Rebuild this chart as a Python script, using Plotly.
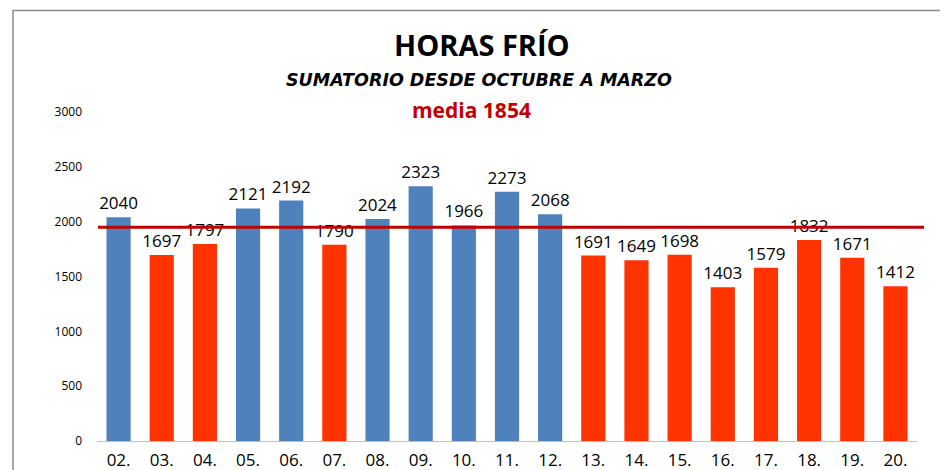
import plotly.graph_objects as go

categories = ["02.", "03.", "04.", "05.", "06.", "07.", "08.", "09.", "10.", "11.",
              "12.", "13.", "14.", "15.", "16.", "17.", "18.", "19.", "20."]
values = [2040, 1697, 1797, 2121, 2192, 1790, 2024, 2323, 1966, 2273,
          2068, 1691, 1649, 1698, 1403, 1579, 1832, 1671, 1412]
mean_line = 1950
mean_label = "media 1854"
y_ticks = [0, 500, 1000, 1500, 2000, 2500, 3000]

BLUE = "#4F81BD"
RED = "#FF3300"
colors = [BLUE if v >= mean_line else RED for v in values]

FONT = "Open Sans, Liberation Sans, sans-serif"

fig = go.Figure()
fig.add_trace(go.Bar(
    x=categories, y=values,
    marker=dict(color=colors, line=dict(width=0)),
    text=[str(v) for v in values],
    textposition="outside",
    constraintext="none",
    textfont=dict(family=FONT, size=17, color="#000000"),
    cliponaxis=False,
    showlegend=False,
))

# page body has an 8px offset; work in target pixel coords and subtract it
OFF = 8
W, H = 948, 470
plot_l, plot_r, plot_t, plot_b = 97, 917, 112, 441
ml = plot_l - OFF
mt = plot_t - OFF
pw = plot_r - plot_l
ph = plot_b - plot_t
mr = W - ml - pw
mb = H - mt - ph

fig.update_layout(
    width=W, height=H,
    margin=dict(l=ml, r=mr, t=mt, b=mb, autoexpand=False),
    paper_bgcolor="white", plot_bgcolor="white",
    bargap=0.44,
    font=dict(family=FONT, color="#000000"),
    showlegend=False,
)

fig.update_xaxes(
    showgrid=False, showline=True, linecolor="#BFBFBF", linewidth=1,
    ticks="", tickfont=dict(family=FONT, size=17, color="#000000"),
    ticklabelstandoff=4, automargin=False, fixedrange=True,
)
fig.update_yaxes(
    range=[0, 3000], tickvals=y_ticks, showgrid=False, showline=False,
    zeroline=False, ticks="", tickfont=dict(family=FONT, size=12, color="#000000"),
    ticklabelstandoff=14, automargin=False, fixedrange=True,
)

def px_to_paper_y(py):
    return (plot_b - py) / ph

def px_to_paper_x(px):
    return (px - plot_l) / pw

# mean line
fig.add_shape(type="line", xref="paper", yref="y", x0=px_to_paper_x(98), x1=px_to_paper_x(924),
              y0=mean_line, y1=mean_line, line=dict(color="#C00000", width=3))

# outer chart border (partially off-canvas)
fig.add_shape(type="rect", xref="paper", yref="paper",
              x0=px_to_paper_x(13), x1=px_to_paper_x(W + 40),
              y0=px_to_paper_y(H + 40), y1=px_to_paper_y(10.5),
              line=dict(color="#8C8C8C", width=1.5), layer="below")

fig.add_annotation(text="<b>HORAS FRÍO</b>", xref="paper", yref="paper",
                   x=px_to_paper_x(482), y=px_to_paper_y(45), showarrow=False,
                   xanchor="center", yanchor="middle",
                   font=dict(family=FONT, size=29, color="#000000"))
fig.add_annotation(text="<b><i>SUMATORIO DESDE OCTUBRE A MARZO</i></b>", xref="paper", yref="paper",
                   x=px_to_paper_x(479), y=px_to_paper_y(80), showarrow=False,
                   xanchor="center", yanchor="middle",
                   font=dict(family="DejaVu Sans, sans-serif", size=17.5, color="#000000"))
fig.add_annotation(text="<b>" + mean_label + "</b>", xref="paper", yref="paper",
                   x=px_to_paper_x(471), y=px_to_paper_y(110), showarrow=False,
                   xanchor="center", yanchor="middle",
                   font=dict(family=FONT, size=21, color="#C00000"))

fig.write_html("out.html")
